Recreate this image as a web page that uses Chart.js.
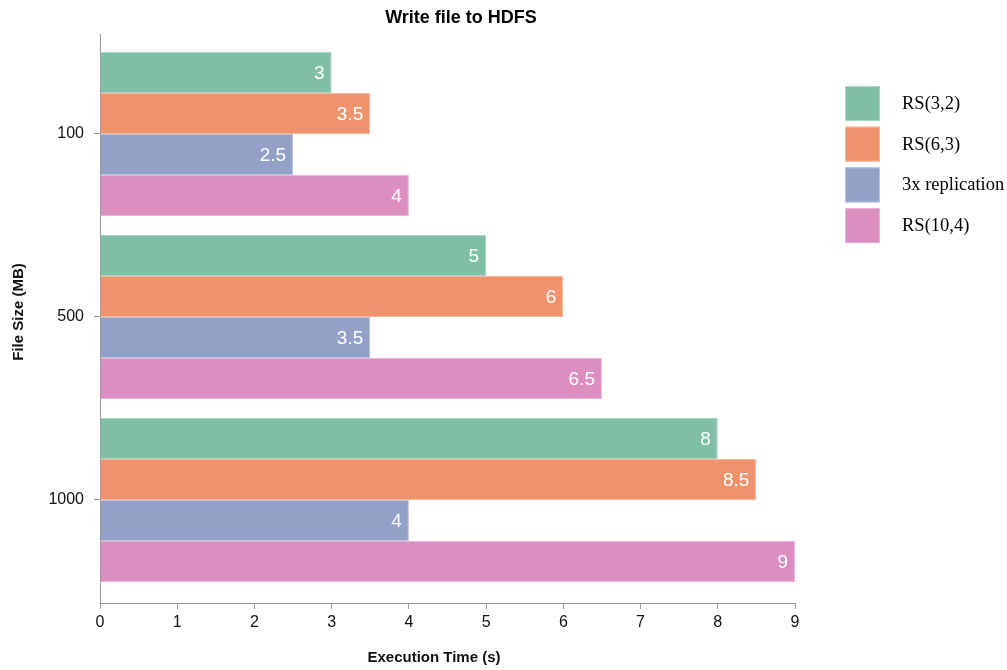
<!DOCTYPE html>
<html>
<head>
<meta charset="utf-8">
<title>Write file to HDFS</title>
<script src="https://cdn.jsdelivr.net/npm/chart.js@4/dist/chart.umd.min.js"></script>
<style>
  html, body { margin: 0; padding: 0; background: #fff; }
  #wrap { width: 1007px; height: 670px; }
</style>
</head>
<body>
<div id="wrap"><canvas id="myChart"></canvas></div>
<script>
'use strict';

// data
var sizeLabels = ['100', '500', '1000'];
var seriesNames = ['RS(3,2)', 'RS(6,3)', '3x replication', 'RS(10,4)'];
var rs32 = [3, 5, 8];
var rs63 = [3.5, 6, 8.5];
var rep3x = [2.5, 3.5, 4];
var rs104 = [4, 6.5, 9];
var timeTicks = [0, 1, 2, 3, 4, 5, 6, 7, 8, 9];

var fillColors = ['#7fbfa6', '#ef936c', '#93a1c9', '#dc8ec0'];
var edgeColors = ['#a9d6c4', '#f6b89d', '#b8c3de', '#ebb5d8'];
var sansFont = '"Liberation Sans", Arial, Helvetica, sans-serif';
var serifFont = '"Liberation Serif", "Times New Roman", serif';

function toPoints(values) {
  // index on the linear y scale = position of the size category
  return values.map(function(v, i) { return { x: v, y: i }; });
}

var allSeries = [rs32, rs63, rep3x, rs104];
var datasets = allSeries.map(function(values, i) {
  return {
    label: seriesNames[i],
    data: toPoints(values),
    backgroundColor: fillColors[i],
    borderColor: edgeColors[i],
    borderWidth: 1,
    barPercentage: 1,
    categoryPercentage: 0.896
  };
});

// white value labels at the end of each bar, titles and legend
var overlay = {
  id: 'overlay',
  afterDatasetsDraw: function(chart) {
    var c = chart.ctx;
    c.save();
    c.fillStyle = '#ffffff';
    c.font = '19px ' + sansFont;
    c.textAlign = 'right';
    c.textBaseline = 'middle';
    chart.data.datasets.forEach(function(ds, di) {
      chart.getDatasetMeta(di).data.forEach(function(bar, i) {
        c.fillText(String(allSeries[di][i]), bar.x - 7, bar.y + 1);
      });
    });
    c.restore();
  },
  afterDraw: function(chart) {
    var c = chart.ctx;
    c.save();
    c.fillStyle = '#000';
    c.textAlign = 'center';
    c.textBaseline = 'middle';
    c.font = 'bold 18px ' + sansFont;
    c.fillText('Write file to HDFS', 461, 18);

    // axis titles
    c.font = 'bold 15px ' + sansFont;
    c.fillStyle = '#111';
    c.fillText('Execution Time (s)', 434, 658);
    c.save();
    c.translate(19, 312);
    c.rotate(-Math.PI / 2);
    c.fillText('File Size (MB)', 0, 0);
    c.restore();

    // legend
    c.font = '18.5px ' + serifFont;
    c.textAlign = 'left';
    for (var i = 0; i < seriesNames.length; i++) {
      var top = 86 + i * 40.7;
      c.fillStyle = fillColors[i];
      c.fillRect(845, top, 35, 35);
      c.strokeStyle = edgeColors[i];
      c.lineWidth = 1;
      c.strokeRect(845.5, top + 0.5, 34, 34);
      c.fillStyle = '#000';
      c.fillText(seriesNames[i], 902, top + 18);
    }
    c.restore();
  }
};

var ctx = document.getElementById('myChart');
var myChart = new Chart(ctx, {
  type: 'bar',
  data: { datasets: datasets },
  plugins: [overlay],
  options: {
    indexAxis: 'y',
    responsive: true,
    maintainAspectRatio: false,
    animation: false,
    layout: { padding: { top: 34, right: 212, bottom: 0, left: 0 } },
    plugins: {
      legend: { display: false },
      title: { display: false },
      tooltip: { enabled: false }
    },
    scales: {
      x: {
        type: 'linear',
        min: 0,
        max: 9,
        afterBuildTicks: function(scale) {
          scale.ticks = timeTicks.map(function(v) { return { value: v }; });
        },
        afterFit: function(scale) { scale.height = 67; },
        grid: { drawOnChartArea: false, drawTicks: true, tickLength: 6, color: '#999' },
        border: { color: '#999', width: 1 },
        ticks: { color: '#111', font: { family: sansFont, size: 16 }, padding: 4, maxRotation: 0 },
        title: { display: false }
      },
      y: {
        type: 'linear',
        reverse: true,
        offset: false,
        min: -0.546,
        max: 2.563,
        afterBuildTicks: function(scale) {
          scale.ticks = sizeLabels.map(function(s, i) { return { value: i }; });
        },
        afterFit: function(scale) { scale.width = 100; },
        grid: { drawOnChartArea: false, drawTicks: true, tickLength: 6, color: '#999', offset: false },
        border: { color: '#999', width: 1 },
        ticks: {
          color: '#111',
          font: { family: sansFont, size: 16 },
          padding: 10,
          callback: function(v) { return sizeLabels[v]; }
        },
        title: { display: false }
      }
    }
  }
});
</script>
</body>
</html>
